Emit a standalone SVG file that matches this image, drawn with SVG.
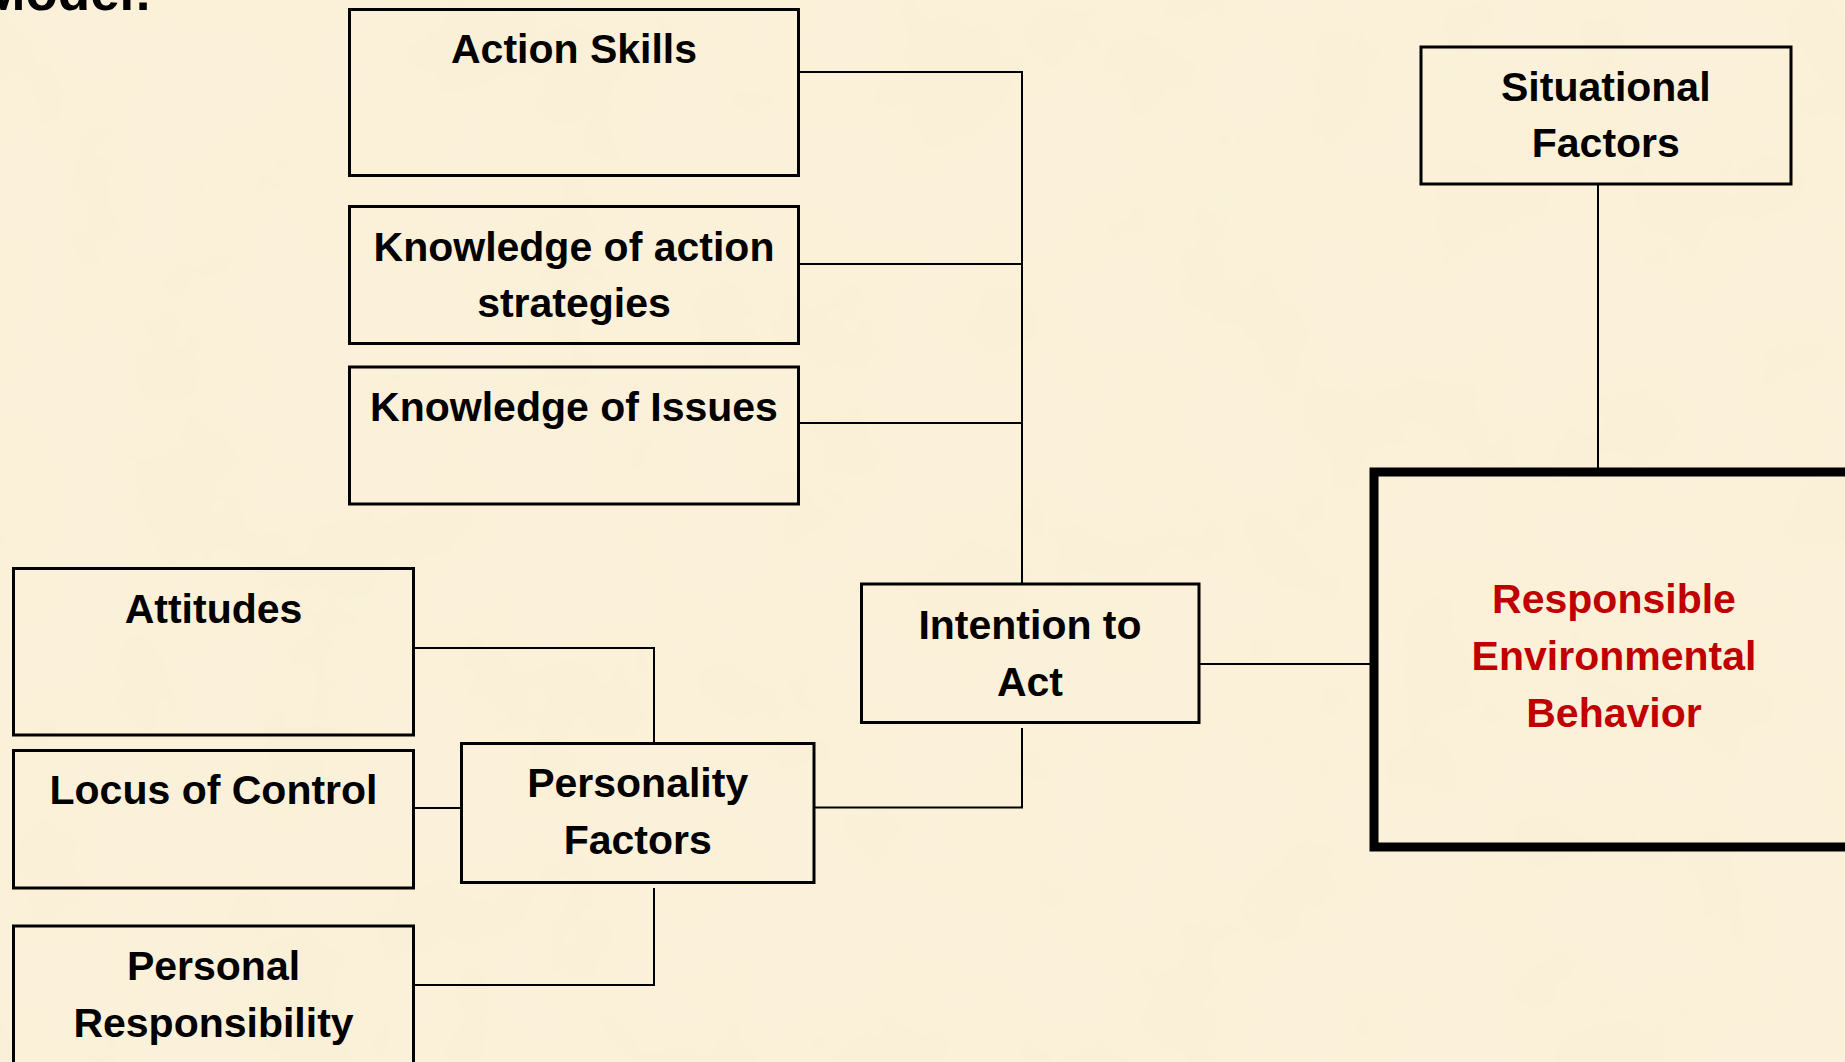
<svg xmlns="http://www.w3.org/2000/svg" width="1845" height="1062" viewBox="0 0 1845 1062">
  <defs>
    <filter id="parchment" x="0" y="0" width="100%" height="100%">
      <feTurbulence type="fractalNoise" baseFrequency="0.008" numOctaves="4" seed="7" result="noise"/>
      <feColorMatrix in="noise" type="matrix" values="0 0 0 0 0.93  0 0 0 0 0.85  0 0 0 0 0.62  0 0 0 -1.6 1.0" result="tint"/>
      <feComponentTransfer in="tint"><feFuncA type="linear" slope="0.35"/></feComponentTransfer>
    </filter>
    <style>
      .box { fill: none; stroke: #000; stroke-width: 3; }
      .thick { fill: none; stroke: #000; stroke-width: 9; }
      .conn { fill: none; stroke: #000; stroke-width: 2; }
      .lbl { font-family: "Liberation Sans", Arial, sans-serif; font-weight: bold; font-size: 41px; fill: #000; text-anchor: middle; }
      .red { fill: #C00000; }
      .title { font-family: "Liberation Sans", Arial, sans-serif; font-weight: bold; font-size: 53px; fill: #000; text-anchor: end; }
    </style>
  </defs>

  <rect x="0" y="0" width="1845" height="1062" fill="#FBF1DA"/>
  <rect x="0" y="0" width="1845" height="1062" filter="url(#parchment)"/>

  <text class="title" x="152" y="10">Model:</text>

  <g id="connectors">
    <path class="conn" d="M798 72 H1022 V583"/>
    <path class="conn" d="M798 264 H1022"/>
    <path class="conn" d="M798 423 H1022"/>
    <path class="conn" d="M414 648 H654 V743"/>
    <path class="conn" d="M414 808 H461"/>
    <path class="conn" d="M414 985 H654 V888"/>
    <path class="conn" d="M814 807.5 H1022 V728"/>
    <path class="conn" d="M1199 664 H1370"/>
    <path class="conn" d="M1598 184 V468"/>
  </g>

  <g id="action-skills">
    <rect class="box" x="349.5" y="9.5" width="449" height="166"/>
    <text class="lbl" x="574" y="63">Action Skills</text>
  </g>

  <g id="knowledge-action-strategies">
    <rect class="box" x="349.5" y="206.5" width="449" height="137"/>
    <text class="lbl" x="574" y="261">Knowledge of action</text>
    <text class="lbl" x="574" y="317">strategies</text>
  </g>

  <g id="knowledge-issues">
    <rect class="box" x="349.5" y="367" width="449" height="137"/>
    <text class="lbl" x="574" y="421">Knowledge of Issues</text>
  </g>

  <g id="attitudes">
    <rect class="box" x="13.5" y="568.5" width="400" height="166.5"/>
    <text class="lbl" x="213.5" y="623">Attitudes</text>
  </g>

  <g id="locus-of-control">
    <rect class="box" x="13.5" y="750.5" width="400" height="137.5"/>
    <text class="lbl" x="213.5" y="804">Locus of Control</text>
  </g>

  <g id="personal-responsibility">
    <rect class="box" x="13.5" y="926" width="400" height="160"/>
    <text class="lbl" x="213.5" y="980">Personal</text>
    <text class="lbl" x="213.5" y="1037">Responsibility</text>
  </g>

  <g id="personality-factors">
    <rect class="box" x="461.5" y="743.5" width="352.5" height="139"/>
    <text class="lbl" x="637.7" y="797">Personality</text>
    <text class="lbl" x="637.7" y="854">Factors</text>
  </g>

  <g id="intention-to-act">
    <rect class="box" x="861.5" y="584" width="337.5" height="138.5"/>
    <text class="lbl" x="1030" y="639">Intention to</text>
    <text class="lbl" x="1030" y="696">Act</text>
  </g>

  <g id="situational-factors">
    <rect class="box" x="1421" y="47" width="370" height="137"/>
    <text class="lbl" x="1605.8" y="101">Situational</text>
    <text class="lbl" x="1605.8" y="157">Factors</text>
  </g>

  <g id="responsible-environmental-behavior">
    <rect class="thick" x="1374" y="472" width="490" height="375"/>
    <text class="lbl red" x="1614" y="613">Responsible</text>
    <text class="lbl red" x="1614" y="670">Environmental</text>
    <text class="lbl red" x="1614" y="727">Behavior</text>
  </g>
</svg>
